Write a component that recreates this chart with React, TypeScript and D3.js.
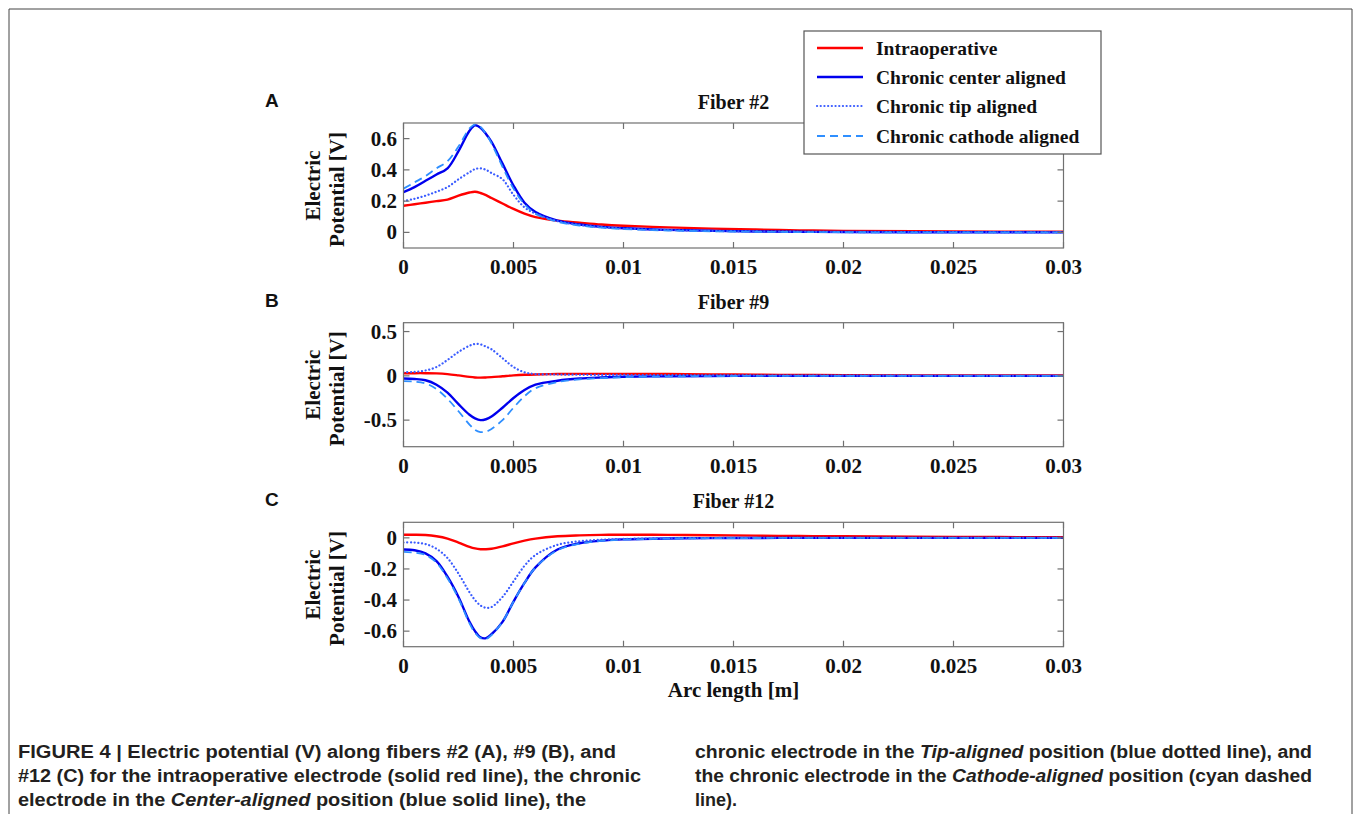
import React from 'react';
import * as d3 from 'd3';

// ---------- DATA ----------
const arcLength = [0, 0.0005, 0.001, 0.0015, 0.002, 0.0025, 0.003, 0.00325, 0.0035, 0.00375, 0.004, 0.0045, 0.005, 0.0055, 0.006, 0.007, 0.008, 0.009, 0.01, 0.012, 0.014, 0.016, 0.018, 0.02, 0.025, 0.03];

const seriesNames = ['Intraoperative', 'Chronic center aligned', 'Chronic tip aligned', 'Chronic cathode aligned'];

// Fiber #2
const f2Intra = [0.17, 0.18, 0.19, 0.2, 0.21, 0.235, 0.255, 0.26, 0.252, 0.238, 0.22, 0.185, 0.15, 0.12, 0.098, 0.075, 0.062, 0.05, 0.042, 0.032, 0.024, 0.018, 0.013, 0.009, 0.006, 0.004];
const f2Center = [0.258, 0.29, 0.33, 0.37, 0.41, 0.52, 0.65, 0.685, 0.67, 0.63, 0.58, 0.44, 0.3, 0.19, 0.13, 0.075, 0.05, 0.035, 0.026, 0.016, 0.01, 0.006, 0.004, 0.002, 0.001, 0];
const f2Tip = [0.2, 0.215, 0.235, 0.26, 0.29, 0.34, 0.385, 0.405, 0.41, 0.4, 0.38, 0.34, 0.24, 0.16, 0.12, 0.072, 0.048, 0.034, 0.025, 0.015, 0.009, 0.006, 0.004, 0.002, 0.001, 0];
const f2Cathode = [0.28, 0.32, 0.36, 0.41, 0.455, 0.55, 0.665, 0.69, 0.675, 0.63, 0.57, 0.42, 0.28, 0.18, 0.12, 0.068, 0.044, 0.03, 0.021, 0.012, 0.007, 0.004, 0.002, 0.001, 0, 0];

// Fiber #9
const f9Intra = [0.03, 0.03, 0.03, 0.028, 0.02, 0.005, -0.012, -0.018, -0.02, -0.018, -0.015, -0.005, 0.005, 0.012, 0.016, 0.02, 0.022, 0.022, 0.022, 0.02, 0.016, 0.013, 0.01, 0.008, 0.005, 0.004];
const f9Center = [-0.03, -0.035, -0.05, -0.1, -0.19, -0.32, -0.44, -0.48, -0.5, -0.49, -0.46, -0.36, -0.25, -0.16, -0.1, -0.055, -0.03, -0.018, -0.01, -0.004, -0.002, 0, 0, 0, 0, 0];
const f9Tip = [0.04, 0.045, 0.06, 0.1, 0.18, 0.27, 0.34, 0.36, 0.355, 0.33, 0.3, 0.2, 0.1, 0.04, 0.02, 0.015, 0.012, 0.01, 0.01, 0.008, 0.006, 0.004, 0.003, 0.002, 0.001, 0];
const f9Cathode = [-0.06, -0.065, -0.085, -0.15, -0.26, -0.4, -0.55, -0.61, -0.635, -0.63, -0.6, -0.5, -0.36, -0.23, -0.14, -0.07, -0.04, -0.025, -0.015, -0.007, -0.003, -0.001, 0, 0, 0, 0];

// Fiber #12
const f12Intra = [0.02, 0.02, 0.018, 0.01, -0.005, -0.03, -0.058, -0.068, -0.073, -0.073, -0.07, -0.055, -0.035, -0.018, -0.005, 0.01, 0.016, 0.019, 0.02, 0.019, 0.017, 0.014, 0.012, 0.01, 0.006, 0.004];
const f12Center = [-0.075, -0.08, -0.1, -0.15, -0.25, -0.38, -0.54, -0.6, -0.64, -0.645, -0.62, -0.54, -0.41, -0.29, -0.19, -0.075, -0.035, -0.018, -0.01, -0.004, -0.002, -0.001, 0, 0, 0, 0];
const f12Tip = [-0.03, -0.03, -0.04, -0.07, -0.13, -0.23, -0.35, -0.4, -0.435, -0.45, -0.445, -0.38, -0.28, -0.18, -0.11, -0.045, -0.022, -0.012, -0.007, -0.003, -0.001, 0, 0, 0, 0, 0];
const f12Cathode = [-0.09, -0.095, -0.11, -0.16, -0.26, -0.39, -0.55, -0.61, -0.645, -0.65, -0.625, -0.54, -0.41, -0.29, -0.19, -0.08, -0.038, -0.02, -0.012, -0.005, -0.002, -0.001, 0, 0, 0, 0];

const xTicks = [0, 0.005, 0.01, 0.015, 0.02, 0.025, 0.03];
const xTickLabels = ['0', '0.005', '0.01', '0.015', '0.02', '0.025', '0.03'];

const panelTitles = ['Fiber #2', 'Fiber #9', 'Fiber #12'];
const panelLetters = ['A', 'B', 'C'];
const yDomains: [number, number][] = [[-0.1, 0.7], [-0.8, 0.6], [-0.7, 0.1]];
const yTicksA = [0, 0.2, 0.4, 0.6];
const yTicksB = [-0.5, 0, 0.5];
const yTicksC = [-0.6, -0.4, -0.2, 0];
const yTickLabelsA = ['0', '0.2', '0.4', '0.6'];
const yTickLabelsB = ['-0.5', '0', '0.5'];
const yTickLabelsC = ['-0.6', '-0.4', '-0.2', '0'];

const captionLeft = [
  [{ t: 'FIGURE 4 | ', i: false }, { t: 'Electric potential (V) along fibers #2 (A), #9 (B), and', i: false }],
  [{ t: '#12 (C) for the intraoperative electrode (solid red line), the chronic', i: false }],
  [{ t: 'electrode in the ', i: false }, { t: 'Center-aligned', i: true }, { t: ' position (blue solid line), the', i: false }],
];
const captionRight = [
  [{ t: 'chronic electrode in the ', i: false }, { t: 'Tip-aligned', i: true }, { t: ' position (blue dotted line), and', i: false }],
  [{ t: 'the chronic electrode in the ', i: false }, { t: 'Cathode-aligned', i: true }, { t: ' position (cyan dashed', i: false }],
  [{ t: 'line).', i: false }],
];

// ---------- STYLE / LAYOUT ----------
const W = 1355, H = 814;
const X0 = 403.5, X1 = 1063.5;
const panelBoxes = [
  { top: 123, bottom: 248 },
  { top: 322.7, bottom: 446.7 },
  { top: 522.3, bottom: 646.7 },
];
const seriesStyles = [
  { color: '#ff0000', width: 2.4, dash: '', cap: 'butt' },
  { color: '#0000ee', width: 2.4, dash: '', cap: 'butt' },
  { color: '#3a5cff', width: 2.2, dash: '0.1,3.6', cap: 'round' },
  { color: '#2f8fff', width: 1.8, dash: '8,5', cap: 'butt' },
];
const serif = '"Liberation Serif", "Times New Roman", serif';
const sans = '"Liberation Sans", Arial, sans-serif';
const frameColor = '#707070';

const panelData = [
  { series: [f2Intra, f2Center, f2Tip, f2Cathode], yTicks: yTicksA, yLabels: yTickLabelsA },
  { series: [f9Intra, f9Center, f9Tip, f9Cathode], yTicks: yTicksB, yLabels: yTickLabelsB },
  { series: [f12Intra, f12Center, f12Tip, f12Cathode], yTicks: yTicksC, yLabels: yTickLabelsC },
];

const xScale = d3.scaleLinear().domain([0, 0.03]).range([X0, X1]);

function Panel({ idx }: { idx: number }) {
  const box = panelBoxes[idx];
  const pd = panelData[idx];
  const y = d3.scaleLinear().domain(yDomains[idx]).range([box.bottom, box.top]);
  const line = d3
    .line<number>()
    .x((_, i) => xScale(arcLength[i]))
    .y((d) => y(d))
    .curve(d3.curveCatmullRom.alpha(0.5));
  const clipId = `clip${idx}`;
  const tick = 6;
  const midY = (box.top + box.bottom) / 2;
  return (
    <g>
      <defs>
        <clipPath id={clipId}>
          <rect x={X0} y={box.top} width={X1 - X0} height={box.bottom - box.top} />
        </clipPath>
      </defs>
      <g clipPath={`url(#${clipId})`}>
        {pd.series.map((s, k) => (
          <path
            key={k}
            d={line(s) || ''}
            fill="none"
            stroke={seriesStyles[k].color}
            strokeWidth={seriesStyles[k].width}
            strokeDasharray={seriesStyles[k].dash || undefined}
            strokeLinecap={seriesStyles[k].cap as any}
            strokeLinejoin="round"
          />
        ))}
      </g>
      <rect x={X0} y={box.top} width={X1 - X0} height={box.bottom - box.top} fill="none" stroke={frameColor} strokeWidth={1.2} />
      {xTicks.map((t, i) => (
        <g key={'x' + i}>
          <line x1={xScale(t)} x2={xScale(t)} y1={box.bottom} y2={box.bottom - tick} stroke={frameColor} strokeWidth={1.2} />
          <line x1={xScale(t)} x2={xScale(t)} y1={box.top} y2={box.top + tick} stroke={frameColor} strokeWidth={1.2} />
          <text x={xScale(t)} y={box.bottom + 26} textAnchor="middle" fontFamily={serif} fontWeight="bold" fontSize={21} fill="#111">
            {xTickLabels[i]}
          </text>
        </g>
      ))}
      {pd.yTicks.map((t, i) => (
        <g key={'y' + i}>
          <line x1={X0} x2={X0 + tick} y1={y(t)} y2={y(t)} stroke={frameColor} strokeWidth={1.2} />
          <line x1={X1} x2={X1 - tick} y1={y(t)} y2={y(t)} stroke={frameColor} strokeWidth={1.2} />
          <text x={397} y={y(t) + 7} textAnchor="end" fontFamily={serif} fontWeight="bold" fontSize={21} fill="#111">
            {pd.yLabels[i]}
          </text>
        </g>
      ))}
      <text x={(X0 + X1) / 2} y={box.top - 14} textAnchor="middle" fontFamily={serif} fontWeight="bold" fontSize={20} fill="#111">
        {panelTitles[idx]}
      </text>
      <text transform={`translate(320,${midY}) rotate(-90)`} textAnchor="middle" fontFamily={serif} fontWeight="bold" fontSize={21} fill="#111">
        Electric
      </text>
      <text transform={`translate(344,${midY + 4}) rotate(-90)`} textAnchor="middle" fontFamily={serif} fontWeight="bold" fontSize={21} fill="#111">
        Potential [V]
      </text>
      <text x={265} y={box.top - 16} fontFamily={sans} fontWeight="bold" fontSize={19} fill="#111">
        {panelLetters[idx]}
      </text>
    </g>
  );
}

function Legend() {
  const lx = 804, ly = 31, lw = 297, lh = 123;
  const rows = [48, 77, 106, 136];
  return (
    <g>
      <rect x={lx} y={ly} width={lw} height={lh} fill="#fff" stroke="#555" strokeWidth={1.2} />
      {seriesNames.map((n, k) => (
        <g key={k}>
          <line
            x1={817}
            x2={863}
            y1={rows[k]}
            y2={rows[k]}
            stroke={seriesStyles[k].color}
            strokeWidth={seriesStyles[k].width}
            strokeDasharray={seriesStyles[k].dash || undefined}
            strokeLinecap={seriesStyles[k].cap as any}
          />
          <text x={876} y={rows[k] + 6.5} fontFamily={serif} fontWeight="bold" fontSize={19.5} fill="#111">
            {n}
          </text>
        </g>
      ))}
    </g>
  );
}

function CaptionLine({ parts, x, y, len }: { parts: { t: string; i: boolean }[]; x: number; y: number; len?: number }) {
  return (
    <text
      x={x}
      y={y}
      fontFamily={sans}
      fontWeight="bold"
      fontSize={18}
      fill="#231f20"
      textLength={len}
      lengthAdjust={len ? 'spacingAndGlyphs' : undefined}
    >
      {parts.map((p, i) => (
        <tspan key={i} fontStyle={p.i ? 'italic' : 'normal'}>
          {p.t}
        </tspan>
      ))}
    </text>
  );
}

export default function App() {
  const leftLens = [598, 623, 568];
  const rightLens = [617, 617, undefined];
  const baselines = [758, 782, 806];
  return (
    <svg width={W} height={H} style={{ position: 'absolute', left: 0, top: 0, background: '#fff' }}>
      <rect x={0} y={0} width={W} height={H} fill="#fff" />
      <path d={`M9,${H} V9 H1352 V${H}`} fill="none" stroke="#444" strokeWidth={1} />
      {[0, 1, 2].map((i) => (
        <Panel key={i} idx={i} />
      ))}
      <text x={(X0 + X1) / 2} y={697} textAnchor="middle" fontFamily={serif} fontWeight="bold" fontSize={21} fill="#111">
        Arc length [m]
      </text>
      <Legend />
      {captionLeft.map((parts, i) => (
        <CaptionLine key={'l' + i} parts={parts} x={18} y={baselines[i]} len={leftLens[i]} />
      ))}
      {captionRight.map((parts, i) => (
        <CaptionLine key={'r' + i} parts={parts} x={695} y={baselines[i]} len={rightLens[i]} />
      ))}
    </svg>
  );
}
